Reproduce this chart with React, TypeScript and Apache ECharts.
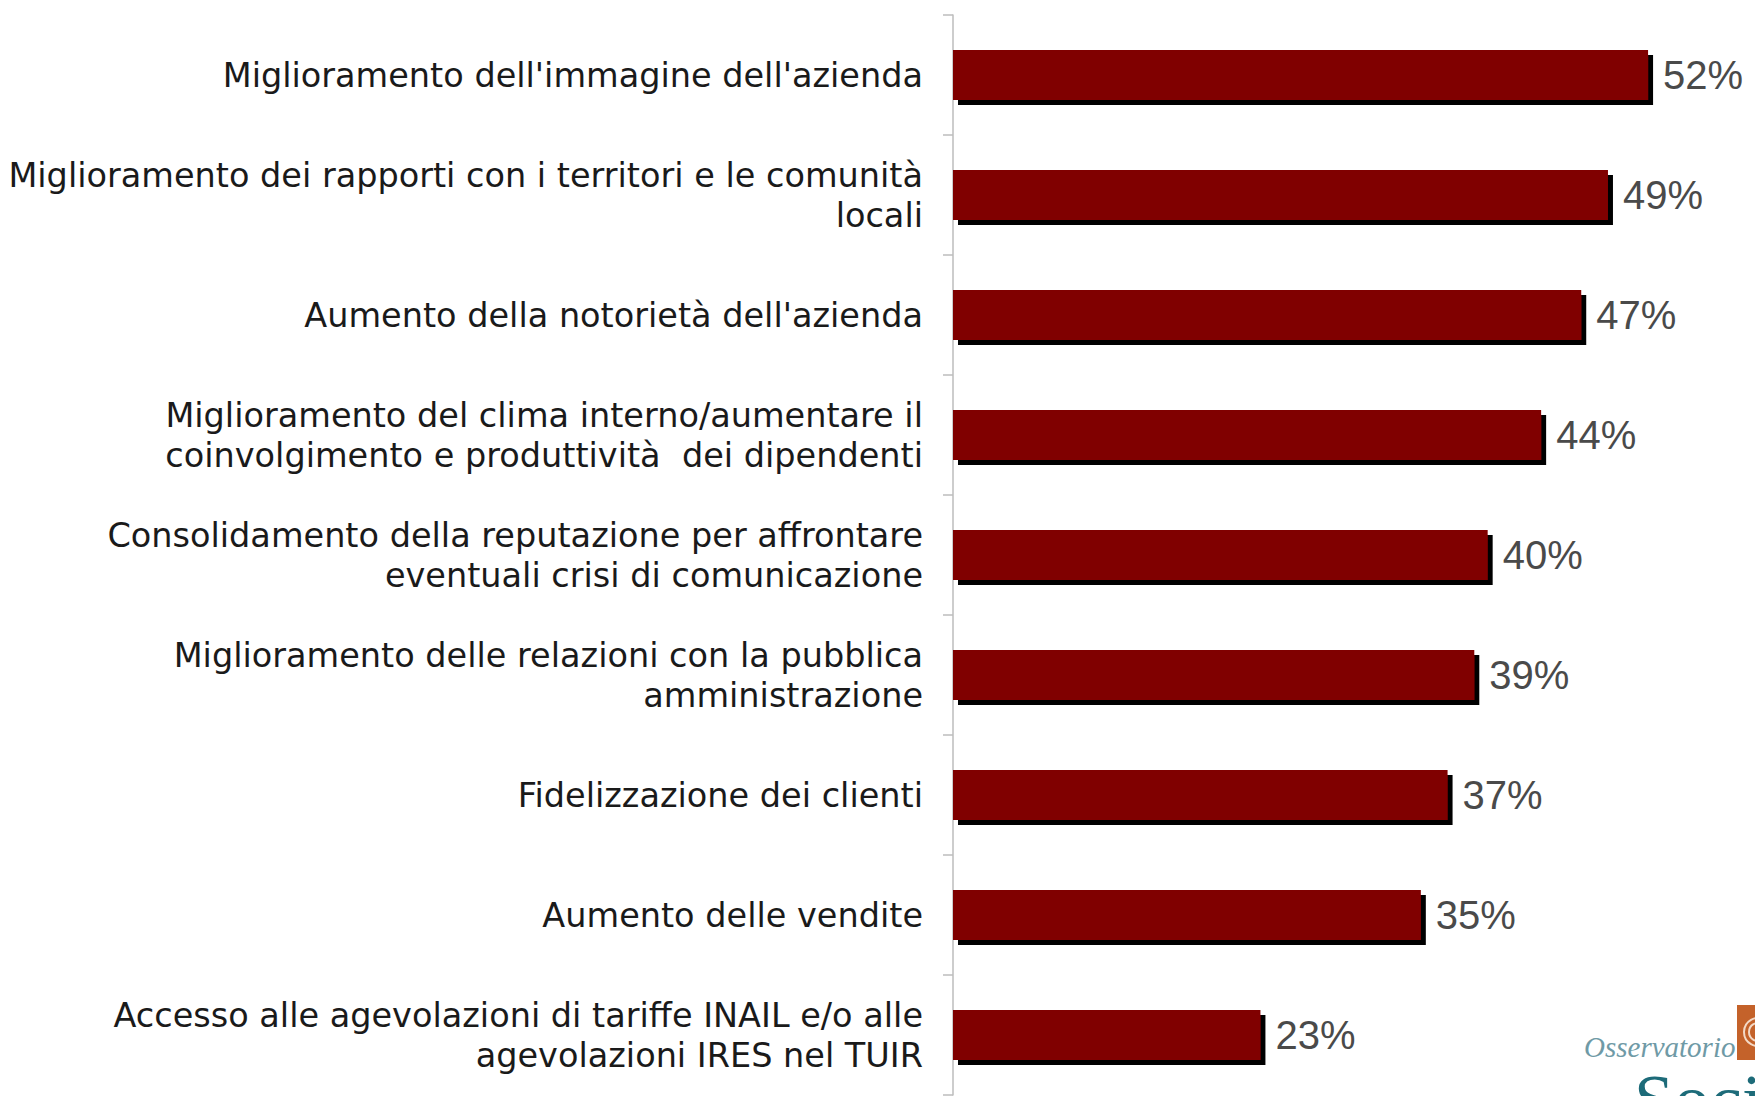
import React, { useEffect, useRef } from "react";
import * as echarts from "echarts";

const categories: string[] = [
  "Miglioramento dell'immagine dell'azienda",
  "Miglioramento dei rapporti con i territori e le comunità\nlocali",
  "Aumento della notorietà dell'azienda",
  "Miglioramento del clima interno/aumentare il\ncoinvolgimento e produttività  dei dipendenti",
  "Consolidamento della reputazione per affrontare\neventuali crisi di comunicazione",
  "Miglioramento delle relazioni con la pubblica\namministrazione",
  "Fidelizzazione dei clienti",
  "Aumento delle vendite",
  "Accesso alle agevolazioni di tariffe INAIL e/o alle\nagevolazioni IRES nel TUIR",
];

const values: number[] = [52, 49, 47, 44, 40, 39, 37, 35, 23];

const logoSmall = "Osservatorio";
const logoBig = "Soci";

export default function App() {
  const ref = useRef<HTMLDivElement>(null);
  useEffect(() => {
    if (!ref.current) return;
    const chart = echarts.init(ref.current, undefined, { renderer: "svg" });
    chart.setOption({
      animation: false,
      backgroundColor: "#ffffff",
      grid: { left: 953, top: 15, width: 810, height: 1080, containLabel: false },
      xAxis: {
        type: "value",
        min: 0,
        max: 60,
        show: false,
        splitLine: { show: false },
      },
      yAxis: {
        type: "category",
        inverse: true,
        data: categories,
        axisLine: { show: true, lineStyle: { color: "#bdbdbd", width: 1.5 } },
        axisTick: { show: true, length: 10, lineStyle: { color: "#bdbdbd", width: 1.5 } },
        axisLabel: {
          margin: 30,
          fontFamily: "DejaVu Sans",
          fontSize: 33.5,
          lineHeight: 40,
          color: "#1a1a1a",
          align: "right",
        },
      },
      series: [
        {
          type: "bar",
          data: values,
          barWidth: 50,
          itemStyle: {
            color: "#800000",
            shadowColor: "#000000",
            shadowOffsetX: 5,
            shadowOffsetY: 5,
            shadowBlur: 0,
          },
          label: {
            show: true,
            position: "right",
            distance: 15,
            formatter: (p: any) => p.value + "%",
            fontFamily: "Liberation Sans",
            fontSize: 40,
            color: "#4a4a4a",
          },
        },
      ],
      graphic: [
        {
          type: "text",
          left: 1584,
          top: 1032,
          style: {
            text: logoSmall,
            fontFamily: "Liberation Serif",
            fontStyle: "italic",
            fontSize: 29,
            fill: "#6f9aa6",
          },
        },
        {
          type: "rect",
          shape: { x: 1737, y: 1005, width: 24, height: 55 },
          style: { fill: "#c4622a" },
        },
        {
          type: "arc",
          shape: { cx: 1758, cy: 1032, r: 14, startAngle: 0, endAngle: Math.PI * 2 },
          style: { stroke: "#f3d9c6", lineWidth: 2, fill: "none" },
        },
        {
          type: "arc",
          shape: { cx: 1758, cy: 1032, r: 9, startAngle: 0, endAngle: Math.PI * 2 },
          style: { stroke: "#f3d9c6", lineWidth: 2, fill: "none" },
        },
        {
          type: "text",
          left: 1634,
          top: 1064,
          style: {
            text: logoBig,
            fontFamily: "Liberation Serif",
            fontSize: 72,
            fill: "#1d6b79",
          },
        },
      ],
    });
    return () => chart.dispose();
  }, []);
  return (
    <div
      ref={ref}
      style={{ position: "fixed", left: 0, top: 0, width: 1755, height: 1096 }}
    />
  );
}
